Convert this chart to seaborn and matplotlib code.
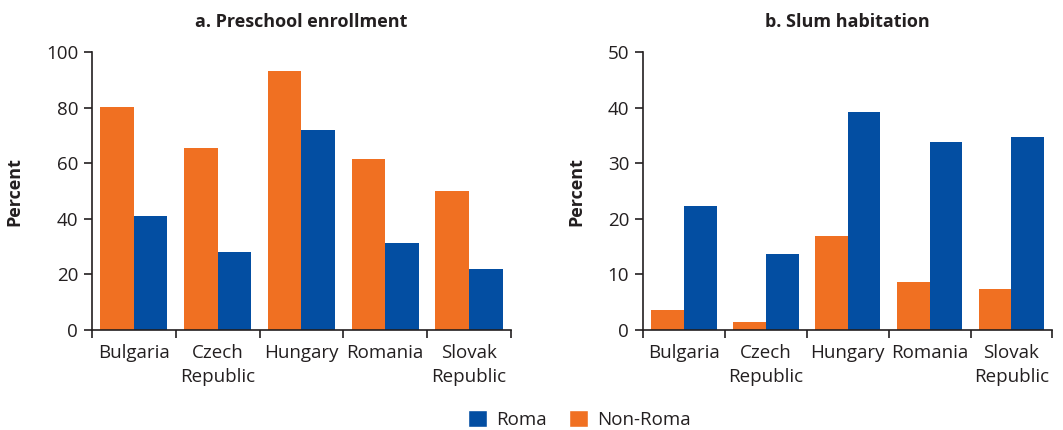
import matplotlib
matplotlib.use("Agg")
import matplotlib.pyplot as plt
from matplotlib.patches import Patch
from matplotlib.ticker import FixedLocator
import seaborn as sns
import pandas as pd

countries = ["Bulgaria", "Czech\nRepublic", "Hungary", "Romania", "Slovak\nRepublic"]
preschool_nonroma = [80.1, 65.5, 93.2, 61.5, 50.0]
preschool_roma = [41.0, 28.0, 72.0, 31.3, 22.0]
slum_nonroma = [3.6, 1.45, 16.9, 8.7, 7.4]
slum_roma = [22.3, 13.6, 39.2, 33.8, 34.7]
groups = ["Non-Roma", "Roma"]
colors = {"Non-Roma": "#F07022", "Roma": "#034EA2"}

sns.set_style("ticks")
plt.rcParams["font.family"] = ["Open Sans", "DejaVu Sans"]
text_color = "#231F20"

def make_df(nonroma, roma):
    rows = []
    for c, v in zip(countries, nonroma):
        rows.append({"country": c, "group": "Non-Roma", "value": v})
    for c, v in zip(countries, roma):
        rows.append({"country": c, "group": "Roma", "value": v})
    return pd.DataFrame(rows)

fig = plt.figure(figsize=(10.63, 4.30), dpi=100)
ax1 = fig.add_axes([0.0866, 0.2326, 0.394, 0.646])
ax2 = fig.add_axes([0.605, 0.2326, 0.385, 0.646])

panels = [
    (ax1, make_df(preschool_nonroma, preschool_roma), "a. Preschool enrollment", 100, [0, 20, 40, 60, 80, 100]),
    (ax2, make_df(slum_nonroma, slum_roma), "b. Slum habitation", 50, [0, 10, 20, 30, 40, 50]),
]

for ax, df, title, ymax, yticks in panels:
    sns.barplot(data=df, x="country", y="value", hue="group", hue_order=groups,
                palette=colors, width=0.8, saturation=1, ax=ax, legend=False,
                linewidth=0, errorbar=None)
    ax.set_xlim(-0.5, 4.5)
    ax.set_ylim(0, ymax)
    ax.set_yticks(yticks)
    ax.set_xlabel("")
    ax.set_ylabel("Percent", fontsize=13, fontweight="bold", color=text_color, labelpad=16)
    ax.set_title(title, fontsize=13, fontweight="bold", color=text_color, pad=18)
    ax.tick_params(axis="x", which="major", length=0, pad=10, labelsize=13.5, labelcolor=text_color)
    ax.xaxis.set_minor_locator(FixedLocator([-0.5, 0.5, 1.5, 2.5, 3.5, 4.5]))
    ax.tick_params(axis="x", which="minor", length=6, width=1.2, color=text_color)
    ax.tick_params(axis="y", length=6, width=1.2, color=text_color, labelsize=13.5,
                   labelcolor=text_color, pad=4)
    for s in ["top", "right"]:
        ax.spines[s].set_visible(False)
    for s in ["left", "bottom"]:
        ax.spines[s].set_color(text_color)
        ax.spines[s].set_linewidth(1.2)
    for lbl in ax.get_xticklabels():
        lbl.set_linespacing(1.45)

handles = [Patch(facecolor=colors["Roma"], label="Roma"),
           Patch(facecolor=colors["Non-Roma"], label="Non-Roma")]
leg = fig.legend(handles=handles, loc="center", bbox_to_anchor=(0.545, 0.025), ncol=2,
                 frameon=False, fontsize=13.5, handlelength=1.0, handleheight=1.0,
                 handletextpad=0.5, columnspacing=1.2)
for t in leg.get_texts():
    t.set_color(text_color)

fig.savefig("out.png", dpi=100)
